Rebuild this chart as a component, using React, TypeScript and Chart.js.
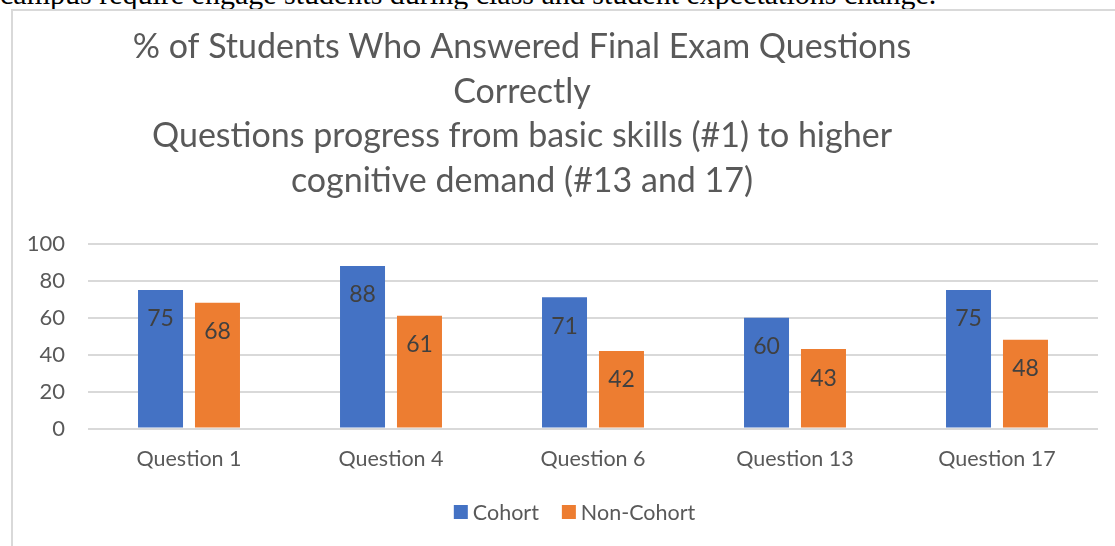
import React, { useEffect, useRef } from "react";
import { Chart, registerables } from "chart.js";

Chart.register(...registerables);

const categories = ["Question 1", "Question 4", "Question 6", "Question 13", "Question 17"];
const cohortValues = [75, 88, 71, 60, 75];
const nonCohortValues = [68, 61, 42, 43, 48];
const seriesNames = ["Cohort", "Non-Cohort"];
const seriesColors = ["#4472C4", "#ED7D31"];
const yMin = 0;
const yMax = 100;
const yStep = 20;
const titleLines = [
  "% of Students Who Answered Final Exam Questions",
  "Correctly",
  "Questions progress from basic skills (#1) to higher",
  "cognitive demand (#13 and 17)",
];
const introText = "campus require engage students during class and student expectations change.";

const FONT = "Lato, 'Noto Sans', sans-serif";
const TEXT_COLOR = "#595959";

const titlePlugin = {
  id: "customTitle",
  afterDraw(chart: any) {
    const ctx = chart.ctx;
    ctx.save();
    ctx.fillStyle = TEXT_COLOR;
    ctx.font = `34px ${FONT}`;
    ctx.textAlign = "center";
    ctx.textBaseline = "middle";
    const ys = [47, 92, 136, 181];
    titleLines.forEach((line, i) => ctx.fillText(line, 522, ys[i]));
    ctx.restore();
  },
};

const legendPlugin = {
  id: "customLegend",
  afterDraw(chart: any) {
    const ctx = chart.ctx;
    ctx.save();
    ctx.font = `21.5px ${FONT}`;
    ctx.textBaseline = "middle";
    ctx.textAlign = "left";
    const box = 14;
    const gap = 5;
    const itemGap = 23;
    const ds = chart.data.datasets;
    const widths = ds.map((d: any) => box + gap + ctx.measureText(d.label).width);
    const total = widths.reduce((a: number, b: number) => a + b, 0) + itemGap * (ds.length - 1);
    let x = 574.5 - total / 2;
    const cy = 512;
    ds.forEach((d: any, i: number) => {
      ctx.fillStyle = d.backgroundColor;
      ctx.fillRect(x, cy - box / 2, box, box);
      ctx.fillStyle = TEXT_COLOR;
      ctx.fillText(d.label, x + box + gap, cy + 1);
      x += widths[i] + itemGap;
    });
    ctx.restore();
  },
};

const dataLabelPlugin = {
  id: "dataLabels",
  afterDatasetsDraw(chart: any) {
    const ctx = chart.ctx;
    ctx.save();
    ctx.font = `23px ${FONT}`;
    ctx.fillStyle = "#404040";
    ctx.textAlign = "center";
    ctx.textBaseline = "middle";
    chart.data.datasets.forEach((d: any, i: number) => {
      const meta = chart.getDatasetMeta(i);
      meta.data.forEach((bar: any, j: number) => {
        ctx.fillText(String(d.data[j]), bar.x, bar.y + 29);
      });
    });
    ctx.restore();
  },
};

export default function App() {
  const canvasRef = useRef<HTMLCanvasElement | null>(null);

  useEffect(() => {
    if (!canvasRef.current) return;
    const chart = new Chart(canvasRef.current, {
      type: "bar",
      data: {
        labels: categories,
        datasets: [
          {
            label: seriesNames[0],
            data: cohortValues,
            backgroundColor: seriesColors[0],
            categoryPercentage: 0.564,
            barPercentage: 0.79,
          },
          {
            label: seriesNames[1],
            data: nonCohortValues,
            backgroundColor: seriesColors[1],
            categoryPercentage: 0.564,
            barPercentage: 0.79,
          },
        ],
      },
      options: {
        responsive: false,
        animation: false,
        devicePixelRatio: 1,
        layout: { padding: { left: 0, right: 17, top: 243.7, bottom: 77.4 } },
        plugins: {
          legend: { display: false },
          title: { display: false },
          tooltip: { enabled: false },
        },
        scales: {
          x: {
            grid: { display: false, drawTicks: false },
            border: { display: false },
            ticks: {
              color: TEXT_COLOR,
              font: { family: FONT, size: 21.5 },
              padding: 18,
              maxRotation: 0,
              autoSkip: false,
            },
            afterFit: (scale: any) => {
              scale.height = 40;
            },
          },
          y: {
            min: yMin,
            max: yMax,
            grid: { color: "#d9d9d9", lineWidth: 2, drawTicks: false },
            border: { display: false },
            ticks: {
              stepSize: yStep,
              color: TEXT_COLOR,
              font: { family: FONT, size: 22 },
              padding: 23,
            },
            afterFit: (scale: any) => {
              scale.width = 88;
            },
          },
        },
      },
      plugins: [titlePlugin, legendPlugin, dataLabelPlugin],
    });
    return () => chart.destroy();
  }, []);

  return (
    <div
      style={{
        position: "absolute",
        left: 0,
        top: 0,
        width: 1115,
        height: 546,
        overflow: "hidden",
        background: "#ffffff",
      }}
    >
      <div
        style={{
          position: "absolute",
          left: 0,
          top: -21.5,
          whiteSpace: "nowrap",
          fontFamily: "'Liberation Serif', 'Times New Roman', serif",
          fontSize: 30,
          lineHeight: "30px",
          color: "#000",
        }}
      >
        {introText}
      </div>
      <div
        style={{
          position: "absolute",
          left: 11,
          top: 9,
          width: 1200,
          height: 700,
          borderLeft: "2px solid #d9d9d9",
          borderTop: "2px solid #d9d9d9",
          background: "#ffffff",
        }}
      />
      <canvas
        ref={canvasRef}
        width={1115}
        height={546}
        style={{ position: "absolute", left: 0, top: 0, width: 1115, height: 546 }}
      />
    </div>
  );
}
